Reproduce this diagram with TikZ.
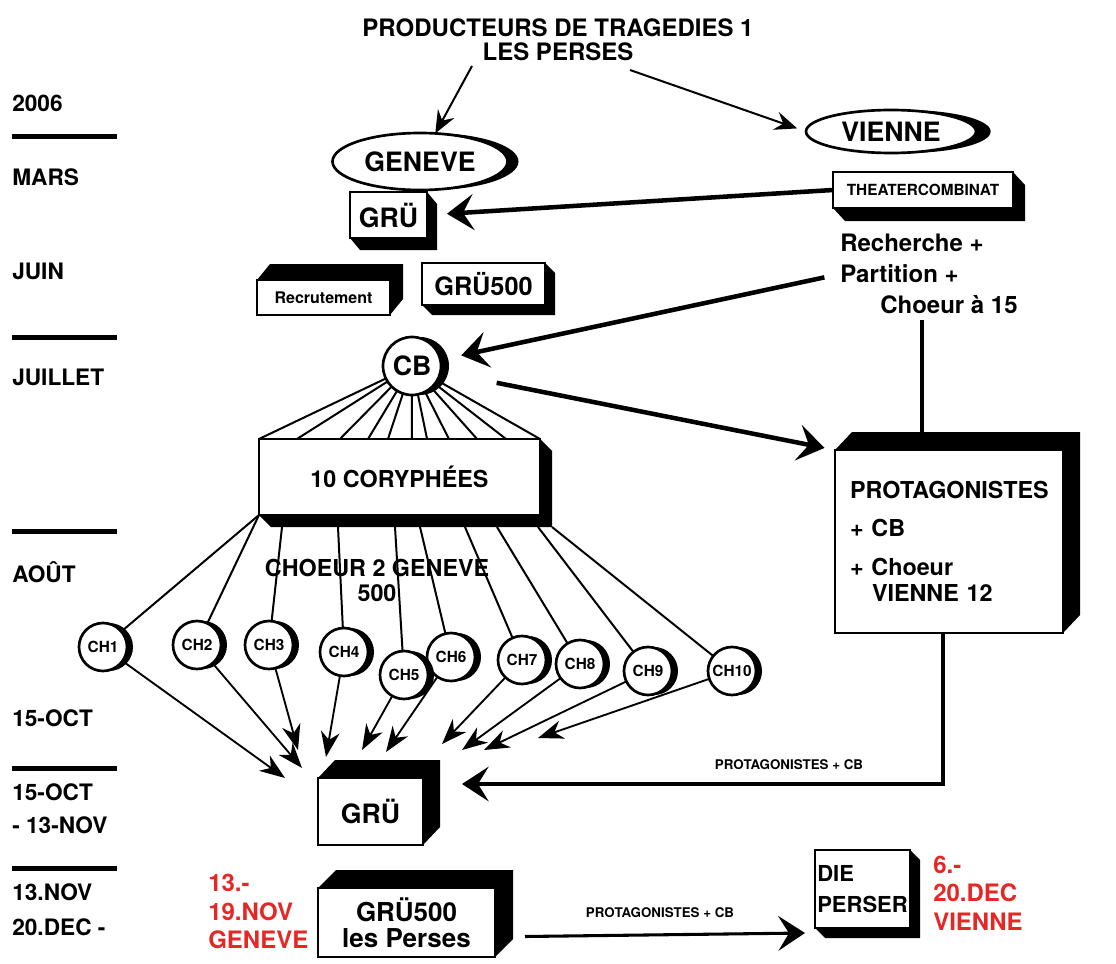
\documentclass[tikz,border=0pt]{standalone}
\usepackage{fontspec}
\setmainfont{TeX Gyre Heros}
\usetikzlibrary{arrows.meta,shapes.geometric,calc,shadows,backgrounds}
\definecolor{redlab}{RGB}{228,40,38}
\pgfdeclarelayer{lines}
\pgfsetlayers{background,lines,main}
\newcommand\fs[2]{\fontsize{#1}{#2}\selectfont\bfseries}
% extrusion down-right / up-right of a box node
\newcommand\exDR[3]{\begin{pgfonlayer}{background}\fill (#1.north east) -- ++(#2,#3) -- ($(#1.south east)+(#2,#3)$) -- ($(#1.south west)+(#2,#3)$) -- (#1.south west) -- cycle;\end{pgfonlayer}}
\newcommand\exUR[3]{\begin{pgfonlayer}{background}\fill (#1.north west) -- ++(#2,#3) -- ($(#1.north east)+(#2,#3)$) -- ($(#1.south east)+(#2,#3)$) -- (#1.south east) -- cycle;\end{pgfonlayer}}
\tikzset{
  px/.style 2 args={minimum width=#1*0.75pt, minimum height=#2*0.75pt},
  box/.style={draw, line width=2.2pt, fill=white, inner sep=0pt, outer sep=0pt, align=center},
  ell/.style={ellipse, draw, line width=2pt, fill=white, inner sep=0pt, outer sep=0pt},
  circ/.style={circle, draw, line width=2pt, fill=white, inner sep=0pt, outer sep=0pt},
  chs/.style={circ, minimum size=36pt, general shadow={fill=black, shadow xshift=4.5pt}, font=\fs{11.5}{13}},
  lab/.style={font=\fs{17}{20}, inner sep=0pt, align=left, anchor=west},
  redl/.style={font=\fs{18}{21.4}, text=redlab, inner sep=0pt, align=left, anchor=west},
  rule/.style={line width=3.75pt},
  fan/.style={line width=1.5pt},
  thinarrow/.style={line width=1.5pt, -{Stealth[length=17pt,width=14pt,inset=6pt]}},
  charrow/.style={line width=1.4pt, -{Stealth[length=19pt,width=14pt,inset=6pt]}},
  thickarrow/.style={line width=3.4pt, -{Stealth[length=20pt,width=27pt,inset=8pt]}},
  midline/.style={line width=2.3pt},
  midarrow/.style={line width=2.3pt, -{Stealth[length=20pt,width=26pt,inset=8pt]}},
  smalllab/.style={font=\fs{10}{12}, inner sep=0pt}
}
\begin{document}
\begin{tikzpicture}[x=0.75pt,y=-0.75pt]
\useasboundingbox (0,0) rectangle (1116,963);

% title
\node[font=\fs{18}{18}, align=center] (title) at (558,40) {PRODUCTEURS DE TRAGEDIES 1\\LES PERSES};

% timeline
\node[lab] (t2006) at (12,103) {2006};
\node[lab] (tmars) at (12,177) {MARS};
\node[lab] (tjuin) at (12,271) {JUIN};
\node[lab] (tjuil) at (12,377) {JUILLET};
\node[lab] (taout) at (12,572) {AOÛT};
\node[lab] (toct) at (12,718) {15-OCT};
\node[lab, font=\fs{17}{24.75}] (toctnov) at (12,808.5) {15-OCT\\- 13-NOV};
\node[lab, font=\fs{17}{26}] (tnovdec) at (12,909.5) {13.NOV\\20.DEC -};
\draw[rule] (12,137) -- (117,137);
\draw[rule] (12,337) -- (117,337);
\draw[rule] (12,531) -- (117,531);
\draw[rule] (12,768) -- (117,768);
\draw[rule] (12,868) -- (117,868);

% ellipses
\node[ell, px={175}{57}, general shadow={fill=black, shadow xshift=8.25pt}, font=\fs{20}{24}] (gen) at (420,161.5) {GENEVE};
\node[ell, px={170}{43}, general shadow={fill=black, shadow xshift=11pt}, font=\fs{20}{24}] (vie) at (891,131.5) {VIENNE};

% boxes
\node[box, px={77}{46}, font=\fs{20}{24}] (gru1) at (388.5,215) {GRÜ}; \exDR{gru1}{10}{12}
\node[box, px={133}{35}, font=\fs{12}{14}] (recr) at (323.5,297.5) {Recrutement}; \exUR{recr}{13}{-16}
\node[box, px={123}{42}, font=\fs{19}{22}] (g500) at (483.5,284) {GRÜ500}; \exDR{g500}{10}{10}
\node[box, px={180}{36}, font=\fs{11.5}{13}] (theat) at (923,190) {THEATERCOMBINAT}; \exDR{theat}{12}{13}
\node[box, px={281}{76}, font=\fs{17.5}{20}] (cory) at (399.5,477) {10 CORYPHÉES}; \exDR{cory}{12}{12}
\node[box, px={228}{183}, text width=148.5pt, align=left, inner xsep=11.25pt, font=\fs{17.5}{21}] (prot) at (949,541.5)
  {PROTAGONISTES\\[7.5pt]+ CB\\[8.25pt]+ Choeur\\[-1.5pt]\hspace*{16.5pt}VIENNE 12}; \exUR{prot}{17}{-18}
\node[box, px={105}{67}, font=\fs{20}{24}] (gru2) at (370.5,811.5) {GRÜ}; \exUR{gru2}{17}{-18}
\node[box, px={177}{69}, font=\fs{19.5}{19.5}] (perses) at (406.5,922.5) {GRÜ500\\les Perses}; \exUR{perses}{18}{-18}
\node[box, px={95}{78}, align=left, font=\fs{16.5}{23}] (die) at (862.5,889) {DIE\\PERSER}; \exDR{die}{10}{10}

% CB circle
\node[circ, minimum size=43.5pt, general shadow={fill=black, shadow xshift=6pt}, font=\fs{20}{24}] (cb) at (412,366) {CB};

% choir circles
\node[chs] (ch1) at (103,647) {CH1};
\node[chs] (ch2) at (197,645) {CH2};
\node[chs] (ch3) at (269,645) {CH3};
\node[chs] (ch4) at (344,652) {CH4};
\node[chs] (ch6) at (451,657) {CH6};
\node[chs] (ch5) at (404,675) {CH5};
\node[chs] (ch7) at (522,660) {CH7};
\node[chs] (ch8) at (580,664) {CH8};
\node[chs] (ch9) at (648,671) {CH9};
\node[chs] (ch10) at (732,671) {CH10};

% texts
\node[font=\fs{18}{23}, align=left, inner sep=0pt, anchor=west] (rech) at (840,274) {Recherche +\\Partition +\\\hspace*{30pt}Choeur à 15};
\node[font=\fs{17.5}{18.75}, align=center, inner sep=0pt] (chlab) at (377,580) {CHOEUR 2 GENEVE\\500};
\node[smalllab] (pl1) at (789,765) {PROTAGONISTES + CB};
\node[smalllab] (pl2) at (660,913) {PROTAGONISTES + CB};
\node[redl] (rg) at (208,911.5) {13.-\\19.NOV\\GENEVE};
\node[redl] (rv) at (933,893) {6.-\\20.DEC\\VIENNE};

% free ends
\coordinate (t1) at (285,778);
\coordinate (t2) at (302,768);
\coordinate (t3) at (298,750);
\coordinate (t4) at (326,757);
\coordinate (t5) at (362,750);
\coordinate (t6) at (386,752);
\coordinate (t7) at (442,744);
\coordinate (t8) at (462,750);
\coordinate (t9) at (484,750);
\coordinate (t10) at (538,738);
\coordinate (pj) at (922,432);
\coordinate (pb) at (943,784);
\coordinate (pt2) at (462,784);

\begin{pgfonlayer}{lines}
\draw[thinarrow] ($(title.center)+(-86,26)$) -- (gen);
\draw[thinarrow, shorten >=7pt] ($(title.center)+(72,30)$) -- (vie.west);
\draw[thickarrow, shorten >=15pt] (theat.west) -- (gru1.east);
\draw[thickarrow, shorten <=12pt, shorten >=16pt] (rech.west) -- (cb);
\draw[thickarrow, shorten <=43pt, shorten >=8pt] (cb) -- (prot.north west);
\foreach \f in {0,0.135,0.288,0.388,0.459,0.544,0.598,0.676,0.776,0.879,1}
  \draw[fan] (cb) -- ($(cory.north west)!\f!(cory.north east)$);
\draw[fan] (cory.south west) -- (ch1);
\draw[fan] (cory.south west) -- (ch2);
\draw[fan] ($(cory.south west)+(23,12)$) -- (ch3);
\draw[fan] ($(cory.south west)+(79,12)$) -- (ch4);
\draw[fan] ($(cory.south west)+(136,12)$) -- (ch5);
\draw[fan] ($(cory.south west)+(161,12)$) -- (ch6);
\draw[fan] ($(cory.south west)+(206,12)$) -- (ch7);
\draw[fan] ($(cory.south west)+(238,12)$) -- (ch8);
\draw[fan] ($(cory.south west)+(279,12)$) -- (ch9);
\draw[fan] ($(cory.south west)+(293,12)$) -- (ch10);
\foreach \i in {1,...,10} \draw[charrow] (ch\i) -- (t\i);
\draw[midline, shorten <=5pt] (rech.south -| pj) -- (pj);
\draw[midarrow] (prot.south -| pb) -- (pb) -- (pt2);
\draw[midarrow] ($(perses.east)+(30,14)$) -- ($(die.south west)+(-10,5)$);
\end{pgfonlayer}
\end{tikzpicture}
\end{document}
